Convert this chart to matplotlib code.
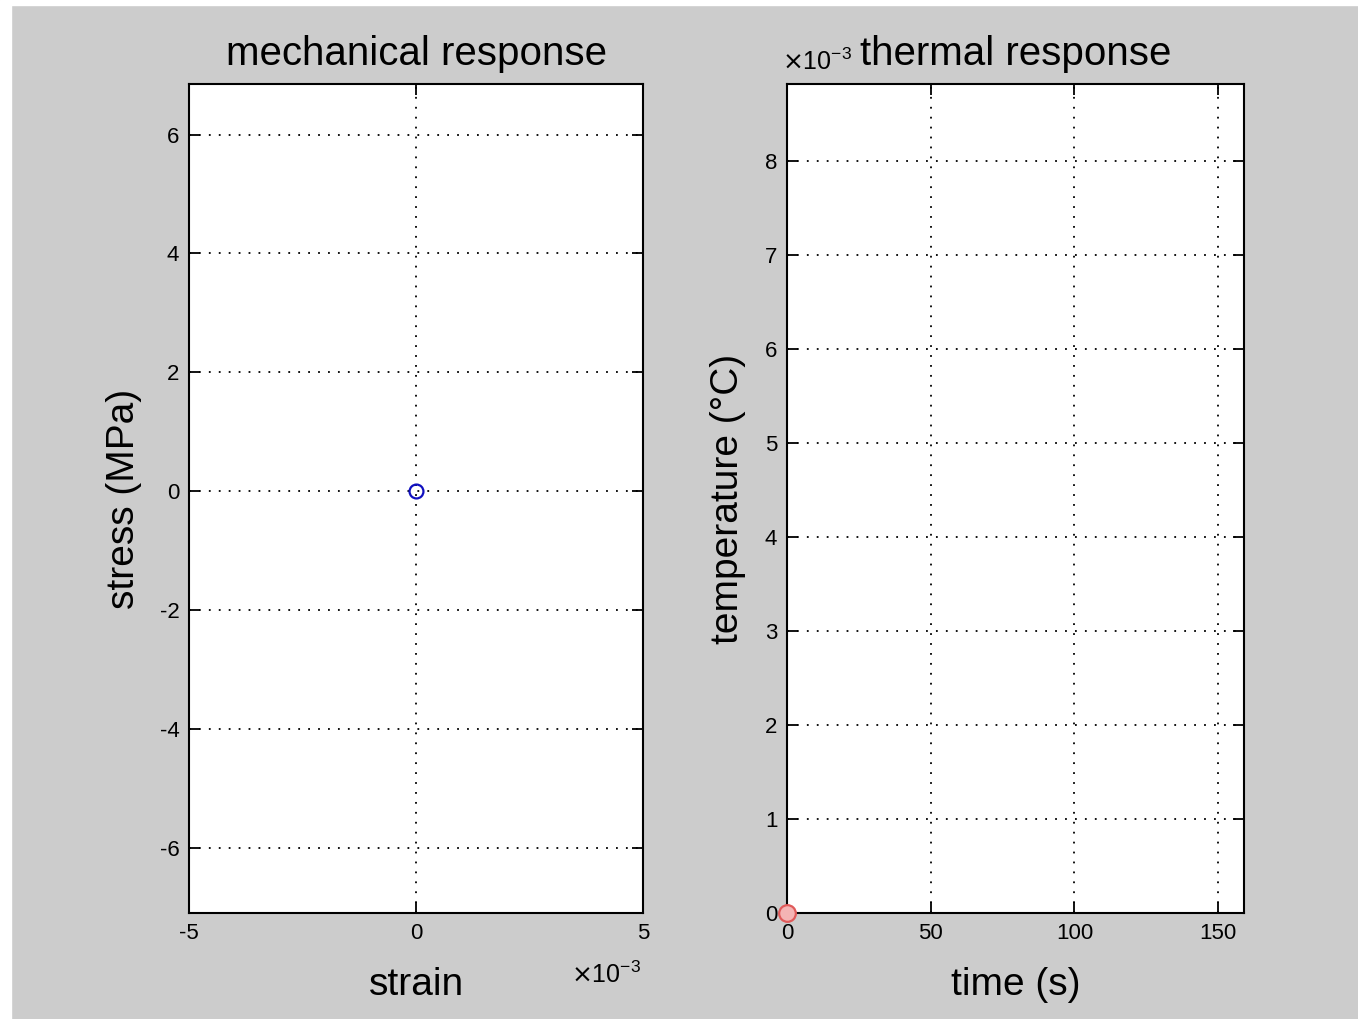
import matplotlib
matplotlib.use("Agg")
import matplotlib.pyplot as plt
from matplotlib.patches import Rectangle
from matplotlib.ticker import FuncFormatter

# data
strain = [0.0]
stress = [0.0]
time_s = [0.0]
temperature = [0.0]

strain_ticks = [-5e-3, 0, 5e-3]
stress_ticks = [-6, -4, -2, 0, 2, 4, 6]
time_ticks = [0, 50, 100, 150]
temp_ticks = [0, 1e-3, 2e-3, 3e-3, 4e-3, 5e-3, 6e-3, 7e-3, 8e-3]

plt.rcParams["font.family"] = ["Liberation Sans", "DejaVu Sans"]
plt.rcParams["axes.unicode_minus"] = False

bg = "#cccccc"
fig = plt.figure(figsize=(13.58, 10.19), dpi=100, facecolor=bg)
# white strips at the left and top edge
fig.patches.append(Rectangle((0, 0), 11 / 1358, 1, transform=fig.transFigure,
                             color="white", zorder=-10))
fig.patches.append(Rectangle((0, 1 - 5 / 1019), 1, 5 / 1019, transform=fig.transFigure,
                             color="white", zorder=-10))

ax1 = fig.add_axes([189 / 1358, 1 - 913 / 1019, 454 / 1358, 829 / 1019])
ax2 = fig.add_axes([787 / 1358, 1 - 913 / 1019, 457 / 1358, 829 / 1019])

scaled = FuncFormatter(lambda v, p: "%g" % round(v * 1e3, 6))

for ax in (ax1, ax2):
    ax.set_facecolor("white")
    ax.grid(True, color="black", linestyle=(0, (1, 4.5)), linewidth=1.3)
    ax.tick_params(direction="in", length=8, width=1.3, top=True, right=True,
                   labelsize=16, pad=7)
    for s in ax.spines.values():
        s.set_linewidth(1.5)

# mechanical response
ax1.plot(strain, stress, "o", ms=10, mfc="none", mec="#1010c0", mew=1.6)
ax1.set_xlim(-5e-3, 5e-3)
ax1.set_ylim(-7.1, 6.85)
ax1.set_xticks(strain_ticks)
ax1.set_yticks(stress_ticks)
ax1.xaxis.set_major_formatter(scaled)
ax1.set_title("mechanical response", fontsize=29, y=1.026, va="center")
ax1.set_xlabel("strain", fontsize=28, va="center")
ax1.xaxis.set_label_coords(0.5, -0.087)
ax1.set_ylabel("stress (MPa)", fontsize=28, va="center")
ax1.yaxis.set_label_coords(-0.143, 0.5)
ax1.text(0.995, -0.075, r"$\times\mathregular{10^{-3}}$", transform=ax1.transAxes,
         ha="right", va="center", fontsize=18)

# thermal response
ax2.plot(time_s, temperature, "o", ms=12, mfc="#f4b4b4", mec="#e05a5a", mew=1.6,
         clip_on=False, zorder=5)
ax2.set_xlim(0, 159)
ax2.set_ylim(0, 8.82e-3)
ax2.set_xticks(time_ticks)
ax2.set_yticks(temp_ticks)
ax2.yaxis.set_major_formatter(scaled)
ax2.set_title("thermal response", fontsize=29, y=1.026, va="center")
ax2.set_xlabel("time (s)", fontsize=28, va="center")
ax2.xaxis.set_label_coords(0.5, -0.087)
ax2.set_ylabel("temperature (°C)", fontsize=28, va="center")
ax2.yaxis.set_label_coords(-0.129, 0.5)
ax2.text(-0.01, 1.027, r"$\times\mathregular{10^{-3}}$", transform=ax2.transAxes,
         ha="left", va="center", fontsize=18)

fig.savefig("out.png", dpi=100, facecolor=bg)
